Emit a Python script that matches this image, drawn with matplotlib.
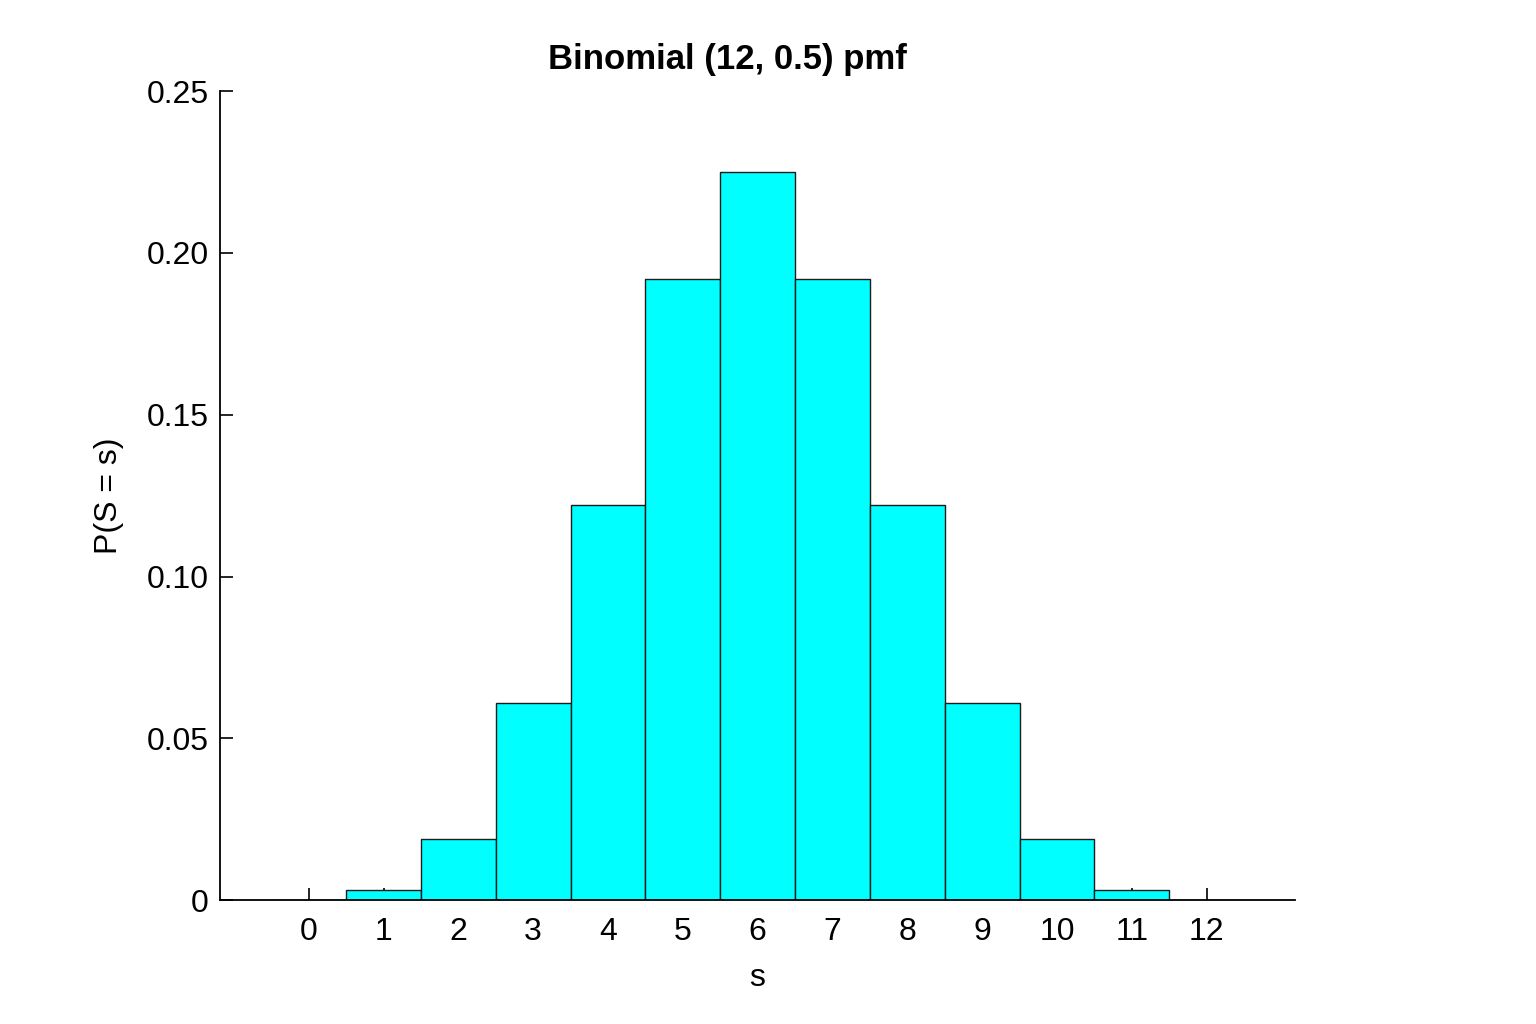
import matplotlib
matplotlib.use("Agg")
import matplotlib.pyplot as plt

s_values = [0, 1, 2, 3, 4, 5, 6, 7, 8, 9, 10, 11, 12]
pmf = [0.0, 0.003, 0.019, 0.061, 0.122, 0.192, 0.225, 0.192, 0.122, 0.061, 0.019, 0.003, 0.0]
y_ticks = [0, 0.05, 0.10, 0.15, 0.20, 0.25]
y_tick_labels = ["0", "0.05", "0.10", "0.15", "0.20", "0.25"]

plt.rcParams['font.family'] = ['Liberation Sans', 'DejaVu Sans']

fig = plt.figure(figsize=(15.36, 10.24), dpi=100)
ax = fig.add_axes([0.143, 0.121, 0.700, 0.790])
ax.set_axisbelow(True)

ax.bar(s_values, pmf, width=1.0, color='#00FFFF', edgecolor='#1a1a1a', linewidth=1.0, zorder=2)

ax.set_xlim(-1.19, 13.18)
ax.set_ylim(0, 0.25)
ax.set_xticks(s_values)
ax.set_xticklabels([str(v) for v in s_values])
ax.set_yticks(y_ticks)
ax.set_yticklabels(y_tick_labels)
ax.tick_params(direction='in', length=9, width=1.2, labelsize=23, pad=8)
ax.tick_params(axis='x', pad=12)

for side in ['top', 'right']:
    ax.spines[side].set_visible(False)
for side in ['left', 'bottom']:
    ax.spines[side].set_linewidth(1.3)
    ax.spines[side].set_zorder(3)

ax.set_title("Binomial (12, 0.5) pmf", fontsize=25, fontweight='bold', pad=16, x=0.472)
ax.set_xlabel("s", fontsize=23, labelpad=12)
ax.set_ylabel("P(S = s)", fontsize=23, labelpad=16)

fig.savefig("out.png", dpi=100)
